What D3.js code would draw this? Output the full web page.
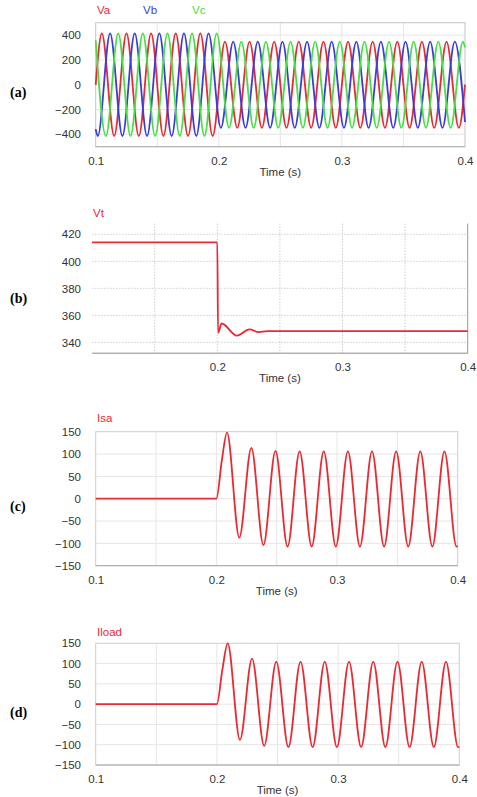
<!DOCTYPE html>
<meta charset="utf-8">
<style>

    body {
        margin: 0;
        background: #fff;
    }

    text {
        font-family: Arial, "Liberation Sans", sans-serif;
    }

    .tick text {
        font-size: 11.5px;
        fill: #333;
    }

    .tag {
        font-family: "Liberation Serif", "Times New Roman", serif;
        font-weight: bold;
        font-size: 14px;
        fill: #000;
    }

    .xlabel {
        font-size: 11.5px;
        fill: #333;
        text-anchor: middle;
    }

    .trace {
        fill: none;
        stroke-width: 1.8px;
        stroke-linejoin: round;
    }

</style>
<svg width="477" height="797"></svg>
<script src="https://d3js.org/d3.v7.min.js"></script>
<script>
    // (a) three phase source voltage: extrema (time in s, volts)
    var vaTime = [0.1, 0.105, 0.115, 0.125, 0.135, 0.145, 0.155, 0.165, 0.175, 0.185, 0.195,
        0.205, 0.215, 0.225, 0.235, 0.245, 0.255, 0.265, 0.275, 0.285, 0.295,
        0.305, 0.315, 0.325, 0.335, 0.345, 0.355, 0.365, 0.375, 0.385, 0.395, 0.4];
    var vaValue = [0, 414, -414, 414, -414, 414, -414, 414, -414, 414, -414,
        348, -348, 348, -348, 348, -348, 348, -348, 348, -348,
        348, -348, 348, -348, 348, -348, 348, -348, 348, -348, 0];

    var vbTime = [0.1, 0.1017, 0.1117, 0.1217, 0.1317, 0.1417, 0.1517, 0.1617, 0.1717, 0.1817, 0.1917,
        0.2017, 0.2117, 0.2217, 0.2317, 0.2417, 0.2517, 0.2617, 0.2717, 0.2817, 0.2917,
        0.3017, 0.3117, 0.3217, 0.3317, 0.3417, 0.3517, 0.3617, 0.3717, 0.3817, 0.3917, 0.4];
    var vbValue = [-358, -414, 414, -414, 414, -414, 414, -414, 414, -414, 414,
        -348, 348, -348, 348, -348, 348, -348, 348, -348, 348,
        -348, 348, -348, 348, -348, 348, -348, 348, -348, 348, -301];

    var vcTime = [0.1, 0.1083, 0.1183, 0.1283, 0.1383, 0.1483, 0.1583, 0.1683, 0.1783, 0.1883, 0.1983,
        0.2083, 0.2183, 0.2283, 0.2383, 0.2483, 0.2583, 0.2683, 0.2783, 0.2883, 0.2983,
        0.3083, 0.3183, 0.3283, 0.3383, 0.3483, 0.3583, 0.3683, 0.3783, 0.3883, 0.3983, 0.4];
    var vcValue = [358, -414, 414, -414, 414, -414, 414, -414, 414, -414, 414,
        -348, 348, -348, 348, -348, 348, -348, 348, -348, 348,
        -348, 348, -348, 348, -348, 348, -348, 348, -348, 348, 301];

    // (b) terminal voltage
    var vtTime = [0.1, 0.2, 0.2006, 0.2035, 0.2156, 0.2257, 0.233, 0.24, 0.4];
    var vtValue = [414, 414, 347, 354, 345, 349.6, 347.6, 348.3, 348.3];

    // (c) source current
    var isaTime = [0.1, 0.2, 0.2045, 0.2088, 0.219, 0.229, 0.239, 0.249, 0.259, 0.269, 0.279,
        0.289, 0.299, 0.309, 0.319, 0.329, 0.339, 0.349, 0.359, 0.369, 0.379, 0.389, 0.399, 0.4];
    var isaValue = [0, 0, 85, 148, -87, 114, -104, 107, -107, 106, -107,
        106, -107, 106, -107, 106, -107, 106, -107, 106, -107, 106, -107, -106];

    // (d) load current
    var iloadTime = [0.1, 0.2, 0.2045, 0.2089, 0.219, 0.229, 0.239, 0.249, 0.259, 0.269, 0.279,
        0.289, 0.299, 0.309, 0.319, 0.329, 0.339, 0.349, 0.359, 0.369, 0.379, 0.389, 0.399, 0.4];
    var iloadValue = [0, 0, 85, 150, -88, 112, -103, 105, -106, 105, -106,
        105, -106, 105, -106, 105, -106, 105, -106, 105, -106, 105, -106, -105];

    var timeTicks = [0.1, 0.2, 0.3, 0.4];
    var timeGrid = [0.15, 0.2, 0.25, 0.3, 0.35];
    var voltTicks = [400, 200, 0, -200, -400];
    var vtTicks = [420, 400, 380, 360, 340];
    var currentTicks = [150, 100, 50, 0, -50, -100, -150];

    var red = "#ea2a33",
        blue = "#3c3cdc",
        green = "#44e044";

    var svg = d3.select("svg");

    svg.append("rect")
        .attr("width", 477)
        .attr("height", 797)
        .attr("fill", "#fff");

    function pts(times, values) {
        return d3.zip(times, values).map(function (p) {
            return {t: p[0], v: p[1]};
        });
    }

    function panel(o) {
        var x = d3.scaleLinear().domain([0.1, 0.4]).range([o.left, o.right]);
        var y = d3.scaleLinear().domain(o.yDomain).range([o.bottom, o.top]);
        var g = svg.append("g");

        // grid
        g.append("g")
            .selectAll("line")
            .data(timeGrid)
            .enter().append("line")
            .attr("x1", x).attr("x2", x)
            .attr("y1", o.top).attr("y2", o.bottom)
            .attr("stroke", o.gridColor)
            .attr("stroke-dasharray", o.dash);

        g.append("g")
            .selectAll("line")
            .data(o.yGrid)
            .enter().append("line")
            .attr("x1", o.left).attr("x2", o.right)
            .attr("y1", y).attr("y2", y)
            .attr("stroke", o.gridColor)
            .attr("stroke-dasharray", o.dash);

        // frame
        if (o.frame) {
            g.append("rect")
                .attr("x", o.left).attr("y", o.top)
                .attr("width", o.right - o.left).attr("height", o.bottom - o.top)
                .attr("fill", "none")
                .attr("stroke", o.frame);
        } else {
            g.append("line")
                .attr("x1", o.right).attr("x2", o.right)
                .attr("y1", o.top).attr("y2", o.bottom)
                .attr("stroke", "#999");
        }
        g.append("line")
            .attr("x1", o.left).attr("x2", o.right)
            .attr("y1", o.bottom).attr("y2", o.bottom)
            .attr("stroke", o.axisColor);

        // axes
        var yAxis = g.append("g")
            .attr("transform", "translate(" + o.left + ",0)")
            .call(d3.axisLeft(y).tickValues(o.yTicks).tickSize(0).tickPadding(o.left - 81));
        yAxis.select(".domain").remove();

        var xAxis = g.append("g")
            .attr("transform", "translate(0," + o.bottom + ")")
            .call(d3.axisBottom(x).tickValues(o.xTicks).tickSize(0).tickPadding(10)
                .tickFormat(d3.format(".1f")));
        xAxis.select(".domain").remove();

        g.append("text")
            .attr("class", "xlabel")
            .attr("x", (o.left + o.right) / 2)
            .attr("y", o.bottom + 29)
            .text("Time (s)");

        // traces
        var line = d3.line()
            .x(function (d) { return x(d.t); })
            .y(function (d) { return y(d.v); })
            .curve(d3.curveMonotoneX);

        o.series.forEach(function (s) {
            g.append("path")
                .attr("class", "trace")
                .attr("stroke", s.color)
                .attr("d", line(s.data));
        });

        // legend names
        o.series.forEach(function (s) {
            g.append("text")
                .attr("x", s.lx)
                .attr("y", s.ly)
                .attr("fill", s.color)
                .style("font-size", "11.5px")
                .text(s.name);
        });

        svg.append("text")
            .attr("class", "tag")
            .attr("x", 10)
            .attr("y", o.tagY)
            .text(o.tag);
    }

    panel({
        left: 95.7, right: 465, top: 22.7, bottom: 146.7,
        yDomain: [-500, 500], yTicks: voltTicks, yGrid: voltTicks, xTicks: timeTicks,
        gridColor: "#e6e6e6", dash: null, frame: "#c4c4c4", axisColor: "#b0b0b0",
        tag: "(a)", tagY: 97,
        series: [
            {name: "Va", color: red, data: pts(vaTime, vaValue), lx: 97, ly: 14},
            {name: "Vb", color: blue, data: pts(vbTime, vbValue), lx: 143, ly: 14},
            {name: "Vc", color: green, data: pts(vcTime, vcValue), lx: 192, ly: 14}
        ]
    });

    panel({
        left: 92.1, right: 467.7, top: 223.5, bottom: 353.2,
        yDomain: [332, 428], yTicks: vtTicks, yGrid: vtTicks, xTicks: [0.2, 0.3, 0.4],
        gridColor: "#cfcfcf", dash: "1.5,1.5", frame: null, axisColor: "#8a8a8a",
        tag: "(b)", tagY: 303,
        series: [
            {name: "Vt", color: red, data: pts(vtTime, vtValue), lx: 93, ly: 217}
        ]
    });

    panel({
        left: 95.7, right: 457.7, top: 431.7, bottom: 565.7,
        yDomain: [-150, 150], yTicks: currentTicks, yGrid: [100, 50, 0, -50, -100], xTicks: timeTicks,
        gridColor: "#e6e6e6", dash: null, frame: "#cccccc", axisColor: "#a8a8a8",
        tag: "(c)", tagY: 511,
        series: [
            {name: "Isa", color: red, data: pts(isaTime, isaValue), lx: 97, ly: 422}
        ]
    });

    panel({
        left: 95.7, right: 459.3, top: 643.3, bottom: 765,
        yDomain: [-150, 150], yTicks: currentTicks, yGrid: [100, 50, 0, -50, -100], xTicks: timeTicks,
        gridColor: "#e6e6e6", dash: null, frame: "#cccccc", axisColor: "#a8a8a8",
        tag: "(d)", tagY: 717,
        series: [
            {name: "Iload", color: red, data: pts(iloadTime, iloadValue), lx: 97, ly: 636}
        ]
    });
</script>
